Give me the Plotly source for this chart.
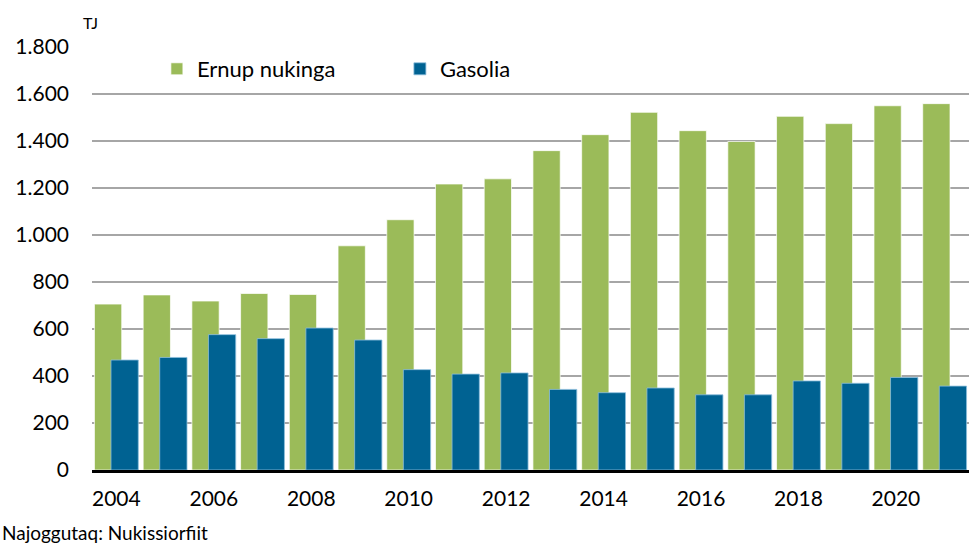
import plotly.graph_objects as go

years = list(range(2004, 2022))
ernup_nukinga = [706, 745, 719, 751, 747, 954, 1065, 1217, 1239, 1359, 1427, 1522,
                 1444, 1398, 1505, 1474, 1550, 1559]
gasolia = [468, 479, 576, 559, 604, 553, 427, 408, 413, 343, 329, 349,
           320, 320, 379, 369, 394, 357]
tick_years = [2004, 2006, 2008, 2010, 2012, 2014, 2016, 2018, 2020]
y_ticks = [0, 200, 400, 600, 800, 1000, 1200, 1400, 1600, 1800]

GREEN = "#9BBB59"
BLUE = "#006292"
FONT = "Lato"

fig = go.Figure()
fig.add_trace(go.Bar(
    x=years, y=ernup_nukinga, name="Ernup nukinga",
    marker=dict(color=GREEN, line=dict(color="rgba(255,255,255,0.7)", width=1)),
    offset=-0.45, width=0.56,
))
fig.add_trace(go.Bar(
    x=years, y=gasolia, name="Gasolia",
    marker=dict(color=BLUE, line=dict(color="rgba(140,190,220,0.8)", width=1)),
    offset=-0.11, width=0.56,
))

fig.update_layout(
    width=976, height=543,
    margin=dict(l=92, r=7, t=47, b=73),
    barmode="overlay",
    plot_bgcolor="white", paper_bgcolor="white",
    separators=",.",
    font=dict(family=FONT, size=21, color="#000000"),
    showlegend=True,
    legend=dict(
        orientation="h", x=0.074, y=0.948, xanchor="left", yanchor="middle",
        font=dict(family=FONT, size=22, color="#000000"),
        entrywidth=198, entrywidthmode="pixels",
        bgcolor="rgba(0,0,0,0)", traceorder="normal",
    ),
    xaxis=dict(
        range=[2003.5, 2021.5], tickmode="array", tickvals=tick_years,
        showgrid=False, zeroline=False, showline=True,
        linecolor="#000000", linewidth=2.5, ticks="",
        ticklabelstandoff=8, automargin=False,
        tickfont=dict(family=FONT, size=21, color="#000000"),
    ),
    yaxis=dict(
        range=[0, 1800], tickmode="array", tickvals=y_ticks,
        tickformat=",d", showgrid=True, gridcolor="#A6A6A6", gridwidth=1.5,
        zeroline=False, showline=False, ticks="",
        ticklabelstandoff=22, automargin=False,
        tickfont=dict(family=FONT, size=21, color="#000000"),
    ),
    annotations=[
        dict(text="TJ", xref="paper", yref="paper", x=-0.0125, y=1.057,
             xanchor="left", yanchor="middle", showarrow=False,
             font=dict(family=FONT, size=16, color="#000000")),
        dict(text="Najoggutaq: Nukissiorfiit", xref="paper", yref="paper",
             x=-0.105, y=-0.148, xanchor="left", yanchor="middle", showarrow=False,
             font=dict(family=FONT, size=19, color="#000000")),
    ],
)

fig.write_html("out.html", config={"displayModeBar": False},
               post_script="document.body.style.margin='0';document.body.style.overflow='hidden';")
